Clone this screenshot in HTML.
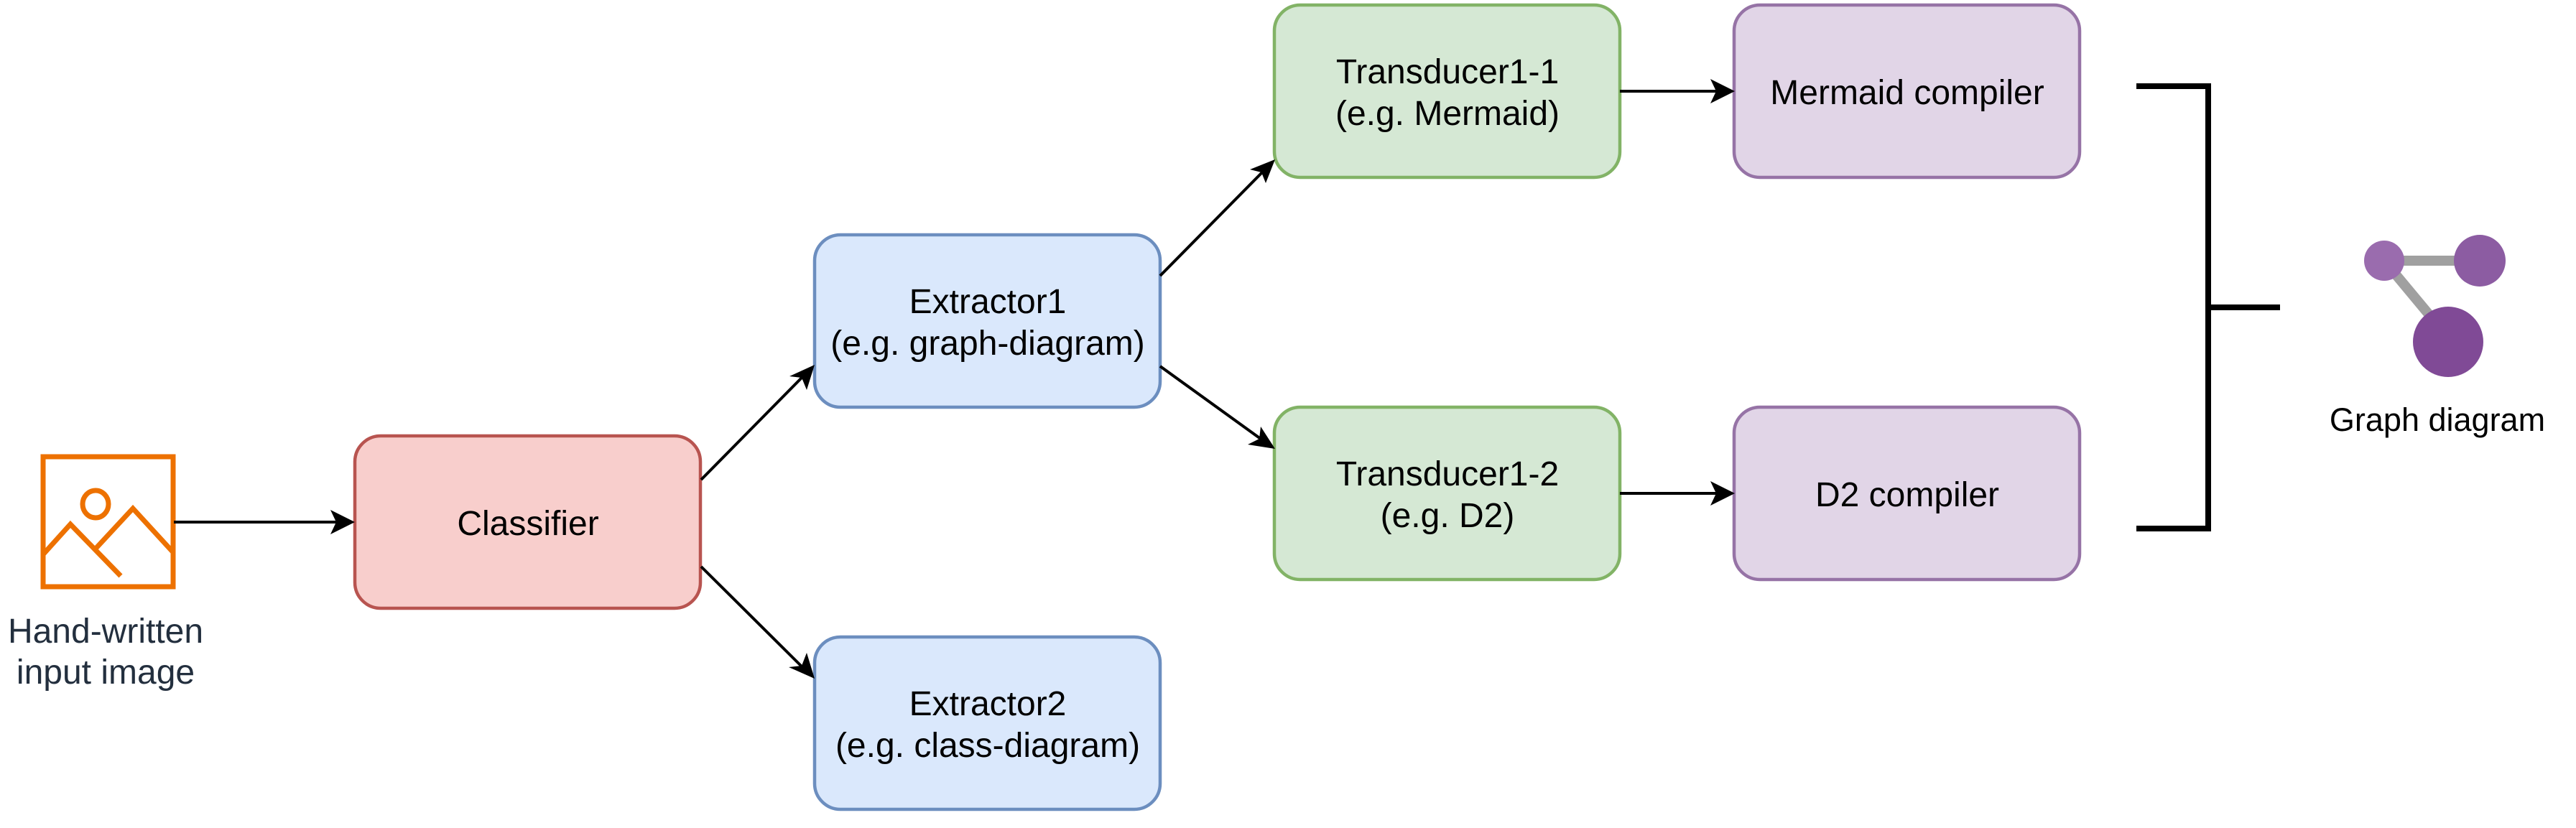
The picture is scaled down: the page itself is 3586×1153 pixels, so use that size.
<!DOCTYPE html>
<html><head><meta charset="utf-8"><style>
html,body{margin:0;padding:0;background:#fff;}
svg{display:block;}
text{font-family:"Liberation Sans",Arial,sans-serif;font-size:48px;text-anchor:middle;fill:#000;}
</style></head><body>
<svg width="3586" height="1153" viewBox="0 0 3586 1153" xmlns="http://www.w3.org/2000/svg">
<g stroke-width="4.5">
<rect x="494" y="607" width="481" height="240" rx="36" fill="#f8cecc" stroke="#b85450"/>
<rect x="1134" y="327" width="481" height="240" rx="36" fill="#dae8fc" stroke="#6c8ebf"/>
<rect x="1134" y="887" width="481" height="240" rx="36" fill="#dae8fc" stroke="#6c8ebf"/>
<rect x="1774" y="7" width="481" height="240" rx="36" fill="#d5e8d4" stroke="#82b366"/>
<rect x="1774" y="567" width="481" height="240" rx="36" fill="#d5e8d4" stroke="#82b366"/>
<rect x="2414" y="7" width="481" height="240" rx="36" fill="#e1d5e7" stroke="#9673a6"/>
<rect x="2414" y="567" width="481" height="240" rx="36" fill="#e1d5e7" stroke="#9673a6"/>
</g>
<text x="735" y="745">Classifier</text>
<text x="1375" y="436">Extractor1</text>
<text x="1375" y="494">(e.g. graph-diagram)</text>
<text x="1375" y="996">Extractor2</text>
<text x="1375" y="1054">(e.g. class-diagram)</text>
<text x="2015" y="116">Transducer1-1</text>
<text x="2015" y="174">(e.g. Mermaid)</text>
<text x="2015" y="676">Transducer1-2</text>
<text x="2015" y="734">(e.g. D2)</text>
<text x="2655" y="145">Mermaid compiler</text>
<text x="2655" y="705">D2 compiler</text>

<!-- icon -->
<g fill="none" stroke="#ed7100" stroke-width="7">
<rect x="60" y="636" width="181" height="181"/>
<ellipse cx="133" cy="702" rx="18" ry="19"/>
<polyline points="61,771 98,730 168,802"/>
<polyline points="134,763 185,708 240,768"/>
</g>
<text x="147" y="895" style="fill:#232f3e">Hand-written</text>
<text x="147" y="952" style="fill:#232f3e">input image</text>

<!-- connectors -->
<g stroke="#000" stroke-width="4" fill="none">
<line x1="242" y1="727" x2="470" y2="727"/>
<line x1="976" y1="668" x2="1118" y2="524"/>
<line x1="976" y1="789" x2="1118" y2="930"/>
<line x1="1615" y1="384" x2="1760" y2="237"/>
<line x1="1615" y1="510" x2="1759" y2="614"/>
<line x1="2255" y1="127" x2="2392" y2="127"/>
<line x1="2255" y1="687" x2="2392" y2="687"/>
</g>
<g fill="#000">
<polygon points="494,727 460,710 468,727 460,744"/>
<polygon points="1134,508 1099,524 1116,526 1123,543" />
<polygon points="1134,945 1123,909 1116,927 1098,929"/>
<polygon points="1775,222 1740,236 1756,240 1762,255"/>
<polygon points="1775,625 1755,594 1753,611 1737,619"/>
<polygon points="2415,127 2381,110 2389,127 2381,144"/>
<polygon points="2415,687 2381,670 2389,687 2381,704"/>
</g>

<!-- bracket -->
<polyline points="2974,120 3074,120 3074,736 2974,736" fill="none" stroke="#000" stroke-width="8"/>
<line x1="3074" y1="428" x2="3174" y2="428" stroke="#000" stroke-width="8"/>

<!-- graph icon -->
<g stroke="#a0a0a0" stroke-width="14">
<line x1="3319" y1="363" x2="3452" y2="363"/>
<line x1="3319" y1="363" x2="3408" y2="470"/>
</g>
<circle cx="3319" cy="363" r="28" fill="#9a6cae"/>
<circle cx="3452" cy="363" r="36" fill="#8c5ca2"/>
<circle cx="3408" cy="476" r="49" fill="#804a96"/>
<text x="3393" y="600" style="font-size:45px">Graph diagram</text>
</svg>
</body></html>
